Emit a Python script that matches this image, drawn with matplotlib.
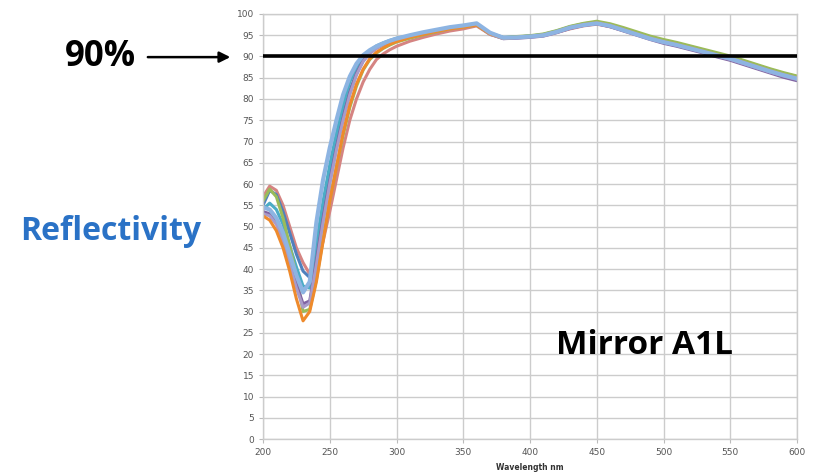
import matplotlib
matplotlib.use("Agg")
import matplotlib.pyplot as plt

# Wavelength sampling (nm): 5 nm steps through the UV dip, 10 nm steps beyond
wavelength = [200, 205, 210, 215, 220, 225, 230, 235, 240, 245, 250, 255, 260,
              265, 270, 275, 280, 285, 290, 295, 300,
              310, 320, 330, 340, 350, 360, 370, 380, 390, 400, 410, 420, 430,
              440, 450, 460, 470, 480, 490, 500, 510, 520, 530, 540, 550, 560,
              570, 580, 590, 600]

# Reflectivity (%) of each measurement
refl_red = [57, 59.5, 58.5, 55, 50, 45, 41.5, 38.8, 40.5, 46.5, 53.5, 61,
            68.5, 75, 80, 84, 87, 89.3, 90.6, 91.6, 92.4,
            93.6, 94.5, 95.3, 96.0, 96.5, 97.2, 95.2, 94.3, 94.6, 94.8, 95.1,
            95.7, 96.5, 97.2, 97.6, 97.0, 96.1, 95.2, 94.3, 93.6, 93.0, 92.2,
            91.4, 90.6, 89.8, 88.9, 87.9, 86.9, 86.0, 85.3]
refl_blue = [55, 58.5, 57.5, 53.5, 48.5, 43.5, 39.5, 38, 44, 53.5, 62, 70,
             76.5, 82, 86, 89.3, 91, 92, 92.8, 93.4, 93.9,
             94.7, 95.4, 96.1, 96.7, 97.1, 97.6, 95.4, 94.4, 94.6, 94.8, 95.1,
             95.9, 96.9, 97.6, 98.0, 97.4, 96.4, 95.4, 94.4, 93.6, 92.9, 92.1,
             91.3, 90.5, 89.7, 88.7, 87.7, 86.7, 85.8, 85.0]
refl_teal = [54, 55.5, 54, 50.5, 45.5, 40.5, 36, 35.5, 46, 56, 64.5, 72, 78.5,
             84, 87.5, 89.9, 91.4, 92.5, 93.2, 93.8, 94.3,
             94.9, 95.6, 96.2, 96.8, 97.2, 97.7, 95.5, 94.5, 94.6, 94.8, 95.2,
             96.0, 97.0, 97.7, 98.1, 97.5, 96.5, 95.5, 94.5, 93.8, 93.1, 92.3,
             91.5, 90.7, 89.9, 88.9, 87.9, 86.9, 86.0, 85.2]
refl_lightblue = [54.5, 54, 52, 48.5, 43.5, 38.5, 34.5, 37, 51, 61, 68.5, 75,
                  81, 85.3, 88.3, 90.3, 91.5, 92.4, 93.1, 93.7, 94.2,
                  95.0, 95.7, 96.3, 96.9, 97.3, 97.8, 95.6, 94.4, 94.5, 94.7,
                  95.0, 95.8, 96.8, 97.4, 97.8, 97.2, 96.2, 95.2, 94.2, 93.4,
                  92.7, 91.9, 91.1, 90.3, 89.5, 88.5, 87.5, 86.5, 85.6, 84.8]
refl_green = [56, 58.8, 57, 52, 45.5, 38.5, 30, 30.5, 37.5, 47, 56, 64, 71.5,
              78, 83, 86.8, 89.3, 90.8, 91.9, 92.7, 93.4,
              94.3, 95.1, 95.8, 96.5, 96.9, 97.4, 95.3, 94.4, 94.7, 94.9, 95.3,
              96.1, 97.1, 97.8, 98.3, 97.7, 96.8, 95.8, 94.8, 94.0, 93.3, 92.5,
              91.7, 90.9, 90.1, 89.1, 88.1, 87.1, 86.2, 85.4]
refl_purple = [53.5, 53, 51, 47, 42, 36.5, 31.8, 32.5, 42, 52, 60.5, 68.5,
               75.5, 81.5, 86, 89, 90.9, 92, 92.9, 93.6, 94.2,
               94.8, 95.5, 96.1, 96.7, 97.1, 97.6, 95.3, 94.2, 94.3, 94.5, 94.8,
               95.6, 96.6, 97.3, 97.7, 97.0, 96.0, 95.0, 94.0, 93.1, 92.4, 91.6,
               90.8, 89.9, 89.1, 88.1, 87.1, 86.1, 85.1, 84.3]
refl_lavender = [53, 52.5, 50.5, 46.5, 41, 35.5, 31, 32, 41, 51, 60, 68, 75,
                 81, 85.6, 88.8, 90.7, 91.9, 92.8, 93.5, 94.1,
                 94.7, 95.4, 96.0, 96.6, 97.0, 97.5, 95.2, 94.2, 94.4, 94.6,
                 94.9, 95.7, 96.7, 97.4, 97.8, 97.1, 96.1, 95.1, 94.1, 93.3,
                 92.6, 91.8, 91.0, 90.1, 89.3, 88.3, 87.3, 86.3, 85.4, 84.6]
refl_orange = [52.5, 51.5, 49, 45, 39.5, 33, 27.8, 30, 37, 46.5, 56, 64, 72,
               78.5, 83.5, 87, 89.5, 91, 92, 92.9, 93.5,
               94.5, 95.2, 95.9, 96.5, 96.9, 97.4, 95.3, 94.3, 94.5, 94.7, 95.0,
               95.8, 96.8, 97.5, 97.9, 97.3, 96.3, 95.3, 94.3, 93.5, 92.8, 92.0,
               91.2, 90.4, 89.6, 88.6, 87.6, 86.6, 85.7, 84.9]

threshold = 90
x_ticks = list(range(200, 601, 50))
y_ticks = list(range(0, 101, 5))

series = [
    (refl_red, "#D58482", 2.2),
    (refl_blue, "#4F81BD", 2.2),
    (refl_teal, "#4BACC6", 2.2),
    (refl_green, "#9BBB59", 2.2),
    (refl_purple, "#8064A2", 2.2),
    (refl_lavender, "#A99BC9", 2.2),
    (refl_orange, "#EE8A2C", 2.2),
    (refl_lightblue, "#8DB4E2", 3.0),
]

fig = plt.figure(figsize=(8.15, 4.76), dpi=100)
ax = fig.add_axes([0.3227, 0.0777, 0.6553, 0.8929])

for vals, color, lw in series:
    ax.plot(wavelength, vals, color=color, lw=lw, solid_joinstyle="round",
            solid_capstyle="round")

ax.axhline(threshold, color="black", lw=2.6, zorder=5)

ax.set_xlim(200, 600)
ax.set_ylim(0, 100)
ax.set_xticks(x_ticks)
ax.set_yticks(y_ticks)
ax.grid(True, color="#cccccc", lw=1)
ax.set_axisbelow(True)
for sp in ax.spines.values():
    sp.set_color("#cccccc")
    sp.set_linewidth(1)
ax.tick_params(axis="both", labelsize=6.5, labelcolor="#555555",
               color="#bbbbbb", length=3, width=0.8)
ax.set_xlabel("Wavelength nm", fontsize=5.5, fontweight="bold",
              color="#333333", labelpad=4)

# Annotations
fig.text(0.123, 0.880, "90%", fontsize=25, fontweight="bold",
         family="Open Sans", ha="center", va="center", color="black")
fig.add_artist(matplotlib.patches.FancyArrowPatch(
    (0.178, 0.880), (0.286, 0.880), transform=fig.transFigure,
    arrowstyle="-|>", mutation_scale=16, lw=1.8, color="black"))
fig.text(0.136, 0.513, "Reflectivity", fontsize=23, fontweight="bold",
         family="Open Sans", ha="center", va="center", color="#2A72C6")
fig.text(0.791, 0.275, "Mirror A1L", fontsize=24, fontweight="bold",
         family="Open Sans", ha="center", va="center", color="black")

fig.savefig("out.png", dpi=100)
